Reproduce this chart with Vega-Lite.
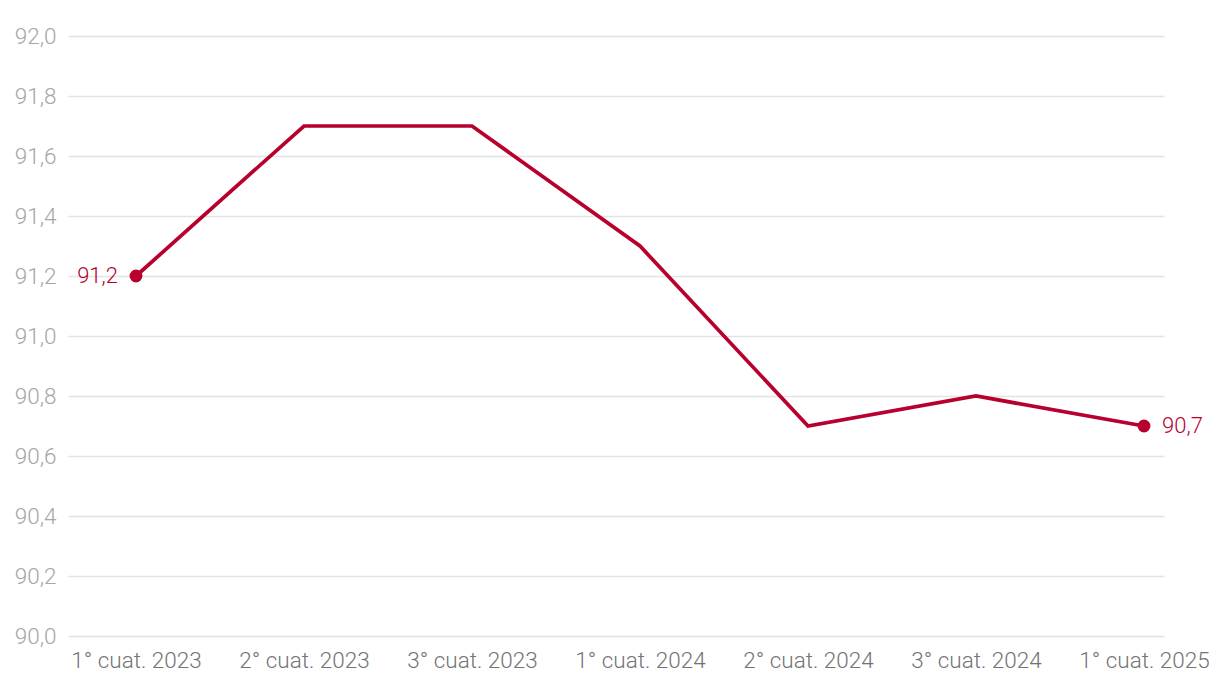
{
  "$schema": "https://vega.github.io/schema/vega-lite/v6.json",
  "width": 1096,
  "height": 600,
  "autosize": {"type": "none"},
  "padding": {"left": 68, "top": 36, "right": 56, "bottom": 64},
  "background": "white",
  "config": {
    "view": {"stroke": null},
    "locale": {"number": {"decimal": ",", "thousands": ".", "grouping": [3], "currency": ["", " €"]}},
    "font": "Roboto"
  },
  "data": {
    "values": [
      {"periodo": "1° cuat. 2023", "valor": 91.2, "extremo": "inicio"},
      {"periodo": "2° cuat. 2023", "valor": 91.7, "extremo": null},
      {"periodo": "3° cuat. 2023", "valor": 91.7, "extremo": null},
      {"periodo": "1° cuat. 2024", "valor": 91.3, "extremo": null},
      {"periodo": "2° cuat. 2024", "valor": 90.7, "extremo": null},
      {"periodo": "3° cuat. 2024", "valor": 90.8, "extremo": null},
      {"periodo": "1° cuat. 2025", "valor": 90.7, "extremo": "fin"}
    ]
  },
  "encoding": {
    "x": {
      "field": "periodo",
      "type": "ordinal",
      "sort": null,
      "scale": {"type": "point", "padding": 0.2619, "align": 0.7727},
      "axis": {
        "title": null,
        "labelAngle": 0,
        "ticks": false,
        "domain": false,
        "grid": false,
        "labelFontSize": 22.5,
        "labelColor": "#737373",
        "labelFont": "Roboto",
        "labelFontWeight": 300,
        "labelPadding": 13
      }
    },
    "y": {
      "field": "valor",
      "type": "quantitative",
      "scale": {"domain": [90, 92], "nice": false, "zero": false},
      "axis": {
        "title": null,
        "values": [90, 90.2, 90.4, 90.6, 90.8, 91, 91.2, 91.4, 91.6, 91.8, 92],
        "format": ".1f",
        "ticks": false,
        "domain": false,
        "gridColor": "#e3e3e3",
        "gridWidth": 1.5,
        "labelFontSize": 22.5,
        "labelColor": "#a6a6a6",
        "labelFont": "Roboto",
        "labelFontWeight": 300,
        "labelPadding": 12
      }
    }
  },
  "layer": [
    {
      "mark": {"type": "line", "color": "#b8002f", "strokeWidth": 3.7}
    },
    {
      "transform": [{"filter": "datum.extremo != null"}],
      "mark": {"type": "circle", "color": "#b8002f", "opacity": 1, "size": 165}
    },
    {
      "transform": [{"filter": "datum.extremo == 'inicio'"}],
      "mark": {"type": "text", "align": "right", "baseline": "middle", "dx": -18, "fontSize": 22, "fontWeight": 300, "color": "#b8002f"},
      "encoding": {"text": {"field": "valor", "type": "quantitative", "format": ".1f"}}
    },
    {
      "transform": [{"filter": "datum.extremo == 'fin'"}],
      "mark": {"type": "text", "align": "left", "baseline": "middle", "dx": 18, "fontSize": 22, "fontWeight": 300, "color": "#b8002f"},
      "encoding": {"text": {"field": "valor", "type": "quantitative", "format": ".1f"}}
    }
  ]
}
